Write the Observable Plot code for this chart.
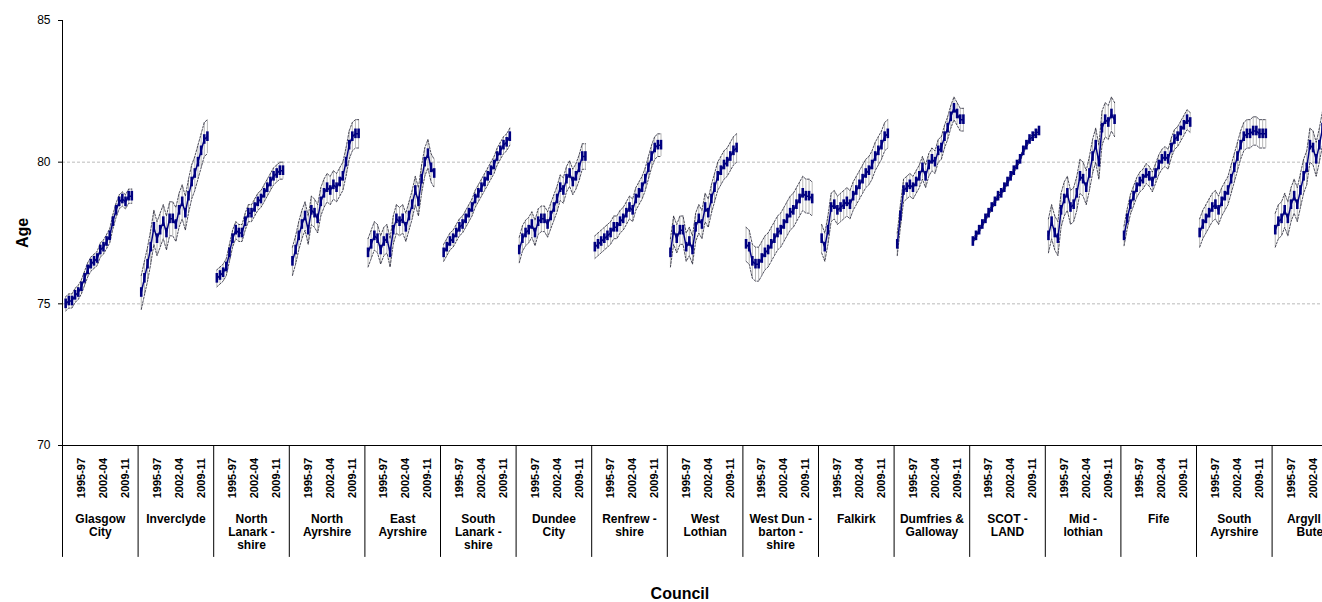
<!DOCTYPE html>
<html><head><meta charset="utf-8">
<script src="https://cdn.jsdelivr.net/npm/d3@7"></script>
<script src="https://cdn.jsdelivr.net/npm/@observablehq/plot@0.6"></script>
<style>body{margin:0;background:#fff;font-family:"Liberation Sans",Arial,sans-serif}</style>
</head><body><div id="chart"></div>
<script>
const councils = ["Glasgow\nCity","Inverclyde","North\nLanark -\nshire","North\nAyrshire","East\nAyrshire","South\nLanark -\nshire","Dundee\nCity","Renfrew -\nshire","West\nLothian","West Dun -\nbarton -\nshire","Falkirk","Dumfries &\nGalloway","SCOT -\nLAND","Mid -\nlothian","Fife","South\nAyrshire","Argyll &\nBute"];
const periods = d3.range(1990, 2012).map(y => `${y}-${String((y + 2) % 100).padStart(2, "0")}`);
const tickLabels = ["1995-97", "2002-04", "2009-11"];
const ages = [
  [75.0,75.1,75.1,75.3,75.4,75.6,75.9,76.2,76.4,76.5,76.6,76.9,77.0,77.2,77.4,77.9,78.3,78.6,78.7,78.6,78.8,78.8],
  [75.4,75.9,76.4,77.0,77.7,77.3,77.6,77.9,77.5,78.0,78.0,77.8,78.3,78.6,78.2,78.8,79.3,79.6,80.0,80.4,80.8,80.9],
  [75.9,76.0,76.1,76.3,76.8,77.3,77.6,77.5,77.5,77.9,78.2,78.2,78.4,78.6,78.7,78.9,79.1,79.3,79.5,79.6,79.7,79.7],
  [76.5,76.9,77.4,77.8,78.1,77.6,78.3,78.2,78.0,78.6,78.9,79.1,79.0,79.2,79.1,79.3,79.5,80.0,80.6,80.9,81.0,81.0],
  [76.8,77.1,77.4,77.3,76.9,77.2,77.3,76.8,77.6,78.0,77.9,78.0,77.7,78.1,78.5,79.0,78.6,79.4,80.0,80.3,79.8,79.6],
  [76.8,77.0,77.2,77.3,77.5,77.7,77.8,78.0,78.2,78.4,78.7,78.9,79.1,79.3,79.5,79.7,79.9,80.2,80.4,80.6,80.7,80.9],
  [76.9,77.3,77.5,77.6,77.8,77.5,77.9,78.0,78.0,77.8,78.1,78.4,78.7,79.1,79.0,79.4,79.6,79.3,79.5,79.8,80.2,80.2],
  [77.0,77.1,77.2,77.3,77.4,77.5,77.7,77.7,77.9,78.0,78.2,78.4,78.3,78.7,78.9,79.1,79.4,79.8,80.2,80.5,80.6,80.6],
  [76.8,77.6,77.3,77.6,77.6,77.0,77.2,76.9,77.7,78.0,77.8,78.4,78.2,78.7,79.1,79.5,79.7,79.9,80.0,80.2,80.4,80.5],
  [77.1,77.0,76.5,76.4,76.4,76.6,76.8,76.9,77.1,77.3,77.5,77.6,77.8,78.0,78.2,78.3,78.5,78.7,78.9,78.8,78.8,78.7],
  [77.3,77.0,77.6,78.4,78.5,78.3,78.4,78.5,78.6,78.5,78.8,79.0,79.2,79.4,79.6,79.7,79.9,80.2,80.4,80.6,80.9,81.0],
  [77.1,78.1,79.0,79.1,79.2,79.1,79.3,79.5,79.8,79.5,79.9,80.1,80.0,80.4,80.5,80.9,81.2,81.6,81.9,81.7,81.5,81.5],
  [77.2,77.4,77.6,77.8,78.0,78.2,78.4,78.6,78.8,78.9,79.1,79.3,79.5,79.7,79.9,80.1,80.4,80.6,80.8,80.9,81.0,81.1],
  [77.4,77.9,77.5,77.3,78.3,78.7,78.9,78.4,78.5,78.9,79.5,79.4,79.1,79.6,80.2,80.6,80.0,81.2,81.5,81.4,81.7,81.5],
  [77.4,78.0,78.5,78.8,79.1,79.3,79.4,79.6,79.5,79.3,79.6,79.9,80.1,80.2,80.1,80.5,80.8,80.9,81.1,81.3,81.5,81.4],
  [77.5,77.8,78.0,78.2,78.4,78.5,78.3,78.6,78.8,79.0,79.4,79.8,80.2,80.6,80.9,81.0,81.0,81.1,81.1,81.0,81.0,81.0],
  [77.6,77.9,78.0,78.3,78.0,78.5,78.8,78.5,79.0,79.5,79.8,80.6,80.5,80.1,80.6,81.2,81.7,81.5,81.3,81.6,81.8,81.7]
];
const ciHalf = [0.25,0.6,0.3,0.5,0.5,0.3,0.45,0.4,0.5,0.6,0.5,0.4,0.08,0.6,0.35,0.5,0.6];

const slots = 24;
const rows = ages.flatMap((vals, g) => vals.map((v, i) => ({
  g, x: g * slots + 1 + i, v, lo: v - ciHalf[g], hi: v + ciHalf[g], period: periods[i]
})));
const ticks = rows.filter(d => tickLabels.includes(d.period));
const groups = councils.map((name, g) => ({name, g, x0: g * slots, xc: g * slots + slots / 2}));
const grayY = [75, 80];

const chart = Plot.plot({
  width: 1322, height: 602,
  marginLeft: 62, marginRight: 0, marginTop: 20, marginBottom: 157,
  style: {fontFamily: "Liberation Sans, Arial, sans-serif", fontSize: "12px"},
  x: {domain: [0, 400], axis: null},
  y: {domain: [70, 85], ticks: [70, 75, 80, 85], label: null, tickSize: 4, tickPadding: 8},
  marks: [
    Plot.ruleY(grayY, {stroke: "#aaa", strokeDasharray: "3,2", strokeWidth: 0.8}),
    Plot.ruleX(rows, {x: "x", y1: "lo", y2: "hi", stroke: "#999", strokeWidth: 0.7}),
    Plot.line(rows, {x: "x", y: "lo", z: "g", stroke: "#223", strokeDasharray: "2,1.5", strokeWidth: 0.8}),
    Plot.line(rows, {x: "x", y: "hi", z: "g", stroke: "#223", strokeDasharray: "2,1.5", strokeWidth: 0.8}),
    Plot.line(rows, {x: "x", y: "v", z: "g", stroke: "#000080", strokeWidth: 1.5}),
    Plot.ruleX(rows, {x: "x", y1: d => d.v - 0.17, y2: d => d.v + 0.17, stroke: "#000080", strokeWidth: 2.6}),
    Plot.ruleY([70], {stroke: "black"}),
    Plot.ruleX([0], {y1: 70, y2: 85, stroke: "black"}),
    Plot.ruleX(groups, {x: "x0", y1: 70, y2: 66.05, stroke: "black", clip: false}),
    Plot.text(ticks, {x: "x", y: 68.85, text: "period", rotate: -90, fontSize: 11, fontWeight: "bold", fill: "black"}),
    Plot.text(groups, {x: "xc", y: 67.6, text: "name", fontSize: 12, fontWeight: "bold", fill: "black", lineAnchor: "top", lineHeight: 1.1}),
    Plot.text(["Council"], {x: 196, y: 64.75, fontSize: 16, fontWeight: "bold", fill: "black"}),
    Plot.text(["Age"], {x: -12.7, y: 77.5, rotate: -90, fontSize: 16, fontWeight: "bold", fill: "black", clip: false})
  ]
});
document.getElementById("chart").append(chart);
</script></body></html>
